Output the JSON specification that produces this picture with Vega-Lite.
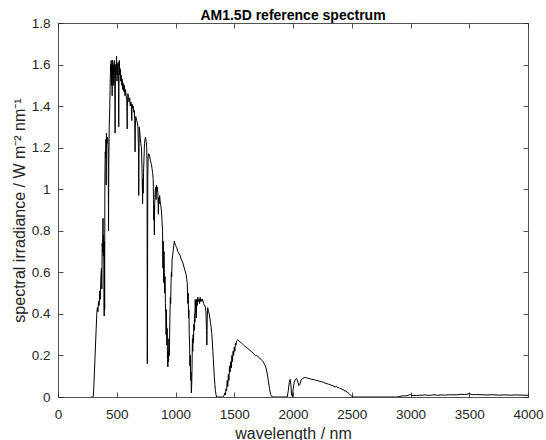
{
  "$schema": "https://vega.github.io/schema/vega-lite/v6.json",
  "width": 470,
  "height": 374,
  "autosize": "none",
  "padding": {"left": 58, "top": 23, "right": 18, "bottom": 43},
  "background": "white",
  "config": {
    "view": {"stroke": null},
    "font": "Liberation Sans",
    "axis": {
      "domainColor": "#262626",
      "domainWidth": 0.8,
      "tickColor": "#262626",
      "tickWidth": 0.8,
      "labelColor": "#262626",
      "titleColor": "#262626",
      "labelFont": "Liberation Sans",
      "titleFont": "Liberation Sans",
      "labelFontSize": 13.5,
      "titleFontSize": 16,
      "titleFontWeight": "normal",
      "grid": false
    }
  },
  "title": {
    "text": "AM1.5D reference spectrum",
    "font": "Liberation Sans",
    "fontSize": 14,
    "fontWeight": "bold",
    "color": "#000000",
    "anchor": "middle",
    "offset": -7
  },
  "data": {"values": [
    {"wl":280,"irr":0},{"wl":295,"irr":0},{"wl":300,"irr":0.002},{"wl":305,"irr":0.05},{"wl":310,"irr":0.12},{"wl":315,"irr":0.19},{"wl":320,"irr":0.26},{"wl":325,"irr":0.33},{"wl":330,"irr":0.40},{"wl":335,"irr":0.43},{"wl":340,"irr":0.41},{"wl":345,"irr":0.46},{"wl":350,"irr":0.44},{"wl":355,"irr":0.51},{"wl":360,"irr":0.47},{"wl":365,"irr":0.58},{"wl":370,"irr":0.62},{"wl":373,"irr":0.52},{"wl":376,"irr":0.74},{"wl":380,"irr":0.70},{"wl":383,"irr":0.86},{"wl":385,"irr":0.68},{"wl":388,"irr":0.78},{"wl":391,"irr":0.60},{"wl":393,"irr":0.39},{"wl":395,"irr":0.75},{"wl":397,"irr":0.42},{"wl":399,"irr":1.05},{"wl":402,"irr":1.18},{"wl":405,"irr":1.15},{"wl":408,"irr":1.24},{"wl":410,"irr":1.02},{"wl":412,"irr":1.27},{"wl":416,"irr":1.22},{"wl":420,"irr":1.25},{"wl":425,"irr":1.24},{"wl":428,"irr":1.12},{"wl":430,"irr":0.80},{"wl":432,"irr":1.10},{"wl":436,"irr":1.30},{"wl":440,"irr":1.38},{"wl":443,"irr":1.48},{"wl":446,"irr":1.56},{"wl":448,"irr":1.60},{"wl":450,"irr":1.57},{"wl":453,"irr":1.62},{"wl":456,"irr":1.50},{"wl":458,"irr":1.60},{"wl":461,"irr":1.45},{"wl":464,"irr":1.62},{"wl":467,"irr":1.55},{"wl":470,"irr":1.60},{"wl":473,"irr":1.50},{"wl":476,"irr":1.58},{"wl":479,"irr":1.62},{"wl":482,"irr":1.55},{"wl":485,"irr":1.40},{"wl":486,"irr":1.27},{"wl":487,"irr":1.45},{"wl":490,"irr":1.60},{"wl":493,"irr":1.55},{"wl":496,"irr":1.58},{"wl":498,"irr":1.64},{"wl":500,"irr":1.61},{"wl":502,"irr":1.52},{"wl":505,"irr":1.60},{"wl":508,"irr":1.55},{"wl":512,"irr":1.61},{"wl":515,"irr":1.47},{"wl":517,"irr":1.30},{"wl":519,"irr":1.50},{"wl":522,"irr":1.62},{"wl":526,"irr":1.55},{"wl":530,"irr":1.58},{"wl":534,"irr":1.52},{"wl":538,"irr":1.55},{"wl":542,"irr":1.50},{"wl":546,"irr":1.53},{"wl":550,"irr":1.48},{"wl":555,"irr":1.51},{"wl":560,"irr":1.47},{"wl":565,"irr":1.50},{"wl":570,"irr":1.45},{"wl":575,"irr":1.48},{"wl":580,"irr":1.45},{"wl":585,"irr":1.43},{"wl":588,"irr":1.35},{"wl":589,"irr":1.29},{"wl":590,"irr":1.40},{"wl":595,"irr":1.46},{"wl":600,"irr":1.44},{"wl":605,"irr":1.42},{"wl":610,"irr":1.44},{"wl":615,"irr":1.40},{"wl":620,"irr":1.42},{"wl":625,"irr":1.40},{"wl":628,"irr":1.33},{"wl":630,"irr":1.41},{"wl":635,"irr":1.39},{"wl":640,"irr":1.40},{"wl":645,"irr":1.37},{"wl":650,"irr":1.38},{"wl":653,"irr":1.33},{"wl":656,"irr":1.18},{"wl":658,"irr":1.30},{"wl":662,"irr":1.35},{"wl":666,"irr":1.34},{"wl":670,"irr":1.33},{"wl":675,"irr":1.32},{"wl":680,"irr":1.30},{"wl":685,"irr":1.20},{"wl":687,"irr":0.97},{"wl":689,"irr":1.15},{"wl":692,"irr":1.30},{"wl":695,"irr":1.28},{"wl":700,"irr":1.25},{"wl":705,"irr":1.22},{"wl":710,"irr":1.20},{"wl":715,"irr":1.10},{"wl":718,"irr":1.00},{"wl":720,"irr":0.93},{"wl":722,"irr":1.05},{"wl":725,"irr":0.98},{"wl":728,"irr":1.08},{"wl":732,"irr":1.15},{"wl":736,"irr":1.22},{"wl":740,"irr":1.24},{"wl":745,"irr":1.25},{"wl":750,"irr":1.23},{"wl":755,"irr":1.20},{"wl":758,"irr":1.10},{"wl":760,"irr":0.16},{"wl":762,"irr":0.50},{"wl":764,"irr":1.05},{"wl":767,"irr":1.15},{"wl":770,"irr":1.17},{"wl":775,"irr":1.17},{"wl":780,"irr":1.16},{"wl":785,"irr":1.14},{"wl":790,"irr":1.13},{"wl":795,"irr":1.12},{"wl":800,"irr":1.10},{"wl":805,"irr":1.08},{"wl":810,"irr":1.05},{"wl":813,"irr":0.95},{"wl":816,"irr":0.85},{"wl":818,"irr":0.92},{"wl":820,"irr":0.78},{"wl":822,"irr":0.90},{"wl":825,"irr":0.96},{"wl":828,"irr":1.00},{"wl":832,"irr":1.01},{"wl":835,"irr":0.95},{"wl":838,"irr":1.02},{"wl":842,"irr":0.99},{"wl":846,"irr":1.01},{"wl":850,"irr":0.98},{"wl":854,"irr":0.88},{"wl":857,"irr":0.96},{"wl":860,"irr":0.93},{"wl":865,"irr":0.97},{"wl":870,"irr":0.94},{"wl":875,"irr":0.92},{"wl":880,"irr":0.90},{"wl":885,"irr":0.85},{"wl":890,"irr":0.80},{"wl":893,"irr":0.62},{"wl":896,"irr":0.75},{"wl":899,"irr":0.55},{"wl":902,"irr":0.70},{"wl":905,"irr":0.60},{"wl":908,"irr":0.50},{"wl":911,"irr":0.58},{"wl":914,"irr":0.45},{"wl":917,"irr":0.40},{"wl":920,"irr":0.30},{"wl":923,"irr":0.42},{"wl":926,"irr":0.25},{"wl":929,"irr":0.33},{"wl":932,"irr":0.18},{"wl":935,"irr":0.145},{"wl":938,"irr":0.22},{"wl":941,"irr":0.17},{"wl":944,"irr":0.28},{"wl":947,"irr":0.20},{"wl":950,"irr":0.30},{"wl":953,"irr":0.40},{"wl":956,"irr":0.48},{"wl":959,"irr":0.45},{"wl":962,"irr":0.55},{"wl":965,"irr":0.60},{"wl":968,"irr":0.58},{"wl":971,"irr":0.66},{"wl":975,"irr":0.68},{"wl":980,"irr":0.70},{"wl":985,"irr":0.73},{"wl":990,"irr":0.75},{"wl":995,"irr":0.74},{"wl":1000,"irr":0.73},{"wl":1010,"irr":0.72},{"wl":1020,"irr":0.70},{"wl":1030,"irr":0.69},{"wl":1040,"irr":0.68},{"wl":1050,"irr":0.66},{"wl":1060,"irr":0.65},{"wl":1070,"irr":0.63},{"wl":1080,"irr":0.61},{"wl":1090,"irr":0.59},{"wl":1095,"irr":0.57},{"wl":1100,"irr":0.55},{"wl":1105,"irr":0.45},{"wl":1108,"irr":0.50},{"wl":1111,"irr":0.38},{"wl":1114,"irr":0.42},{"wl":1117,"irr":0.30},{"wl":1120,"irr":0.25},{"wl":1123,"irr":0.15},{"wl":1126,"irr":0.20},{"wl":1129,"irr":0.08},{"wl":1132,"irr":0.12},{"wl":1135,"irr":0.02},{"wl":1138,"irr":0.06},{"wl":1141,"irr":0.15},{"wl":1144,"irr":0.28},{"wl":1147,"irr":0.22},{"wl":1150,"irr":0.30},{"wl":1153,"irr":0.26},{"wl":1156,"irr":0.35},{"wl":1159,"irr":0.32},{"wl":1162,"irr":0.40},{"wl":1165,"irr":0.36},{"wl":1168,"irr":0.47},{"wl":1171,"irr":0.40},{"wl":1174,"irr":0.46},{"wl":1177,"irr":0.38},{"wl":1180,"irr":0.47},{"wl":1185,"irr":0.44},{"wl":1190,"irr":0.48},{"wl":1195,"irr":0.46},{"wl":1200,"irr":0.47},{"wl":1205,"irr":0.45},{"wl":1210,"irr":0.48},{"wl":1215,"irr":0.46},{"wl":1220,"irr":0.47},{"wl":1225,"irr":0.46},{"wl":1230,"irr":0.47},{"wl":1235,"irr":0.46},{"wl":1240,"irr":0.45},{"wl":1245,"irr":0.44},{"wl":1250,"irr":0.44},{"wl":1255,"irr":0.43},{"wl":1260,"irr":0.40},{"wl":1264,"irr":0.32},{"wl":1267,"irr":0.25},{"wl":1270,"irr":0.38},{"wl":1274,"irr":0.43},{"wl":1278,"irr":0.42},{"wl":1282,"irr":0.41},{"wl":1287,"irr":0.40},{"wl":1292,"irr":0.38},{"wl":1297,"irr":0.36},{"wl":1302,"irr":0.34},{"wl":1308,"irr":0.31},{"wl":1313,"irr":0.27},{"wl":1318,"irr":0.22},{"wl":1322,"irr":0.18},{"wl":1326,"irr":0.14},{"wl":1330,"irr":0.10},{"wl":1335,"irr":0.06},{"wl":1340,"irr":0.03},{"wl":1345,"irr":0.01},{"wl":1350,"irr":0},{"wl":1400,"irr":0},{"wl":1410,"irr":0.003},{"wl":1420,"irr":0.02},{"wl":1425,"irr":0.01},{"wl":1430,"irr":0.04},{"wl":1435,"irr":0.03},{"wl":1440,"irr":0.08},{"wl":1445,"irr":0.05},{"wl":1450,"irr":0.11},{"wl":1455,"irr":0.08},{"wl":1460,"irr":0.15},{"wl":1465,"irr":0.12},{"wl":1470,"irr":0.17},{"wl":1475,"irr":0.14},{"wl":1480,"irr":0.20},{"wl":1485,"irr":0.17},{"wl":1490,"irr":0.22},{"wl":1495,"irr":0.20},{"wl":1500,"irr":0.24},{"wl":1505,"irr":0.22},{"wl":1510,"irr":0.26},{"wl":1515,"irr":0.25},{"wl":1520,"irr":0.27},{"wl":1530,"irr":0.275},{"wl":1540,"irr":0.27},{"wl":1550,"irr":0.265},{"wl":1560,"irr":0.26},{"wl":1570,"irr":0.255},{"wl":1580,"irr":0.25},{"wl":1590,"irr":0.245},{"wl":1600,"irr":0.24},{"wl":1610,"irr":0.235},{"wl":1620,"irr":0.232},{"wl":1630,"irr":0.225},{"wl":1640,"irr":0.222},{"wl":1650,"irr":0.215},{"wl":1660,"irr":0.212},{"wl":1670,"irr":0.205},{"wl":1680,"irr":0.2},{"wl":1690,"irr":0.2},{"wl":1700,"irr":0.195},{"wl":1710,"irr":0.19},{"wl":1720,"irr":0.185},{"wl":1730,"irr":0.18},{"wl":1740,"irr":0.175},{"wl":1750,"irr":0.165},{"wl":1760,"irr":0.155},{"wl":1770,"irr":0.14},{"wl":1780,"irr":0.115},{"wl":1790,"irr":0.08},{"wl":1800,"irr":0.04},{"wl":1810,"irr":0.012},{"wl":1820,"irr":0.002},{"wl":1830,"irr":0},{"wl":1950,"irr":0},{"wl":1960,"irr":0.03},{"wl":1968,"irr":0.07},{"wl":1975,"irr":0.085},{"wl":1982,"irr":0.06},{"wl":1988,"irr":0.01},{"wl":1995,"irr":0.002},{"wl":2002,"irr":0.04},{"wl":2010,"irr":0.07},{"wl":2020,"irr":0.085},{"wl":2030,"irr":0.09},{"wl":2040,"irr":0.075},{"wl":2050,"irr":0.055},{"wl":2058,"irr":0.06},{"wl":2068,"irr":0.08},{"wl":2080,"irr":0.088},{"wl":2095,"irr":0.094},{"wl":2110,"irr":0.093},{"wl":2125,"irr":0.091},{"wl":2140,"irr":0.088},{"wl":2160,"irr":0.085},{"wl":2180,"irr":0.083},{"wl":2200,"irr":0.08},{"wl":2220,"irr":0.077},{"wl":2240,"irr":0.074},{"wl":2260,"irr":0.07},{"wl":2280,"irr":0.066},{"wl":2300,"irr":0.062},{"wl":2320,"irr":0.058},{"wl":2340,"irr":0.054},{"wl":2360,"irr":0.048},{"wl":2370,"irr":0.052},{"wl":2380,"irr":0.044},{"wl":2390,"irr":0.046},{"wl":2400,"irr":0.04},{"wl":2410,"irr":0.042},{"wl":2420,"irr":0.034},{"wl":2430,"irr":0.036},{"wl":2440,"irr":0.028},{"wl":2450,"irr":0.03},{"wl":2460,"irr":0.024},{"wl":2470,"irr":0.02},{"wl":2480,"irr":0.015},{"wl":2490,"irr":0.008},{"wl":2500,"irr":0.004},{"wl":2510,"irr":0},{"wl":2880,"irr":0},{"wl":2900,"irr":0.002},{"wl":2920,"irr":0.004},{"wl":2940,"irr":0.006},{"wl":2960,"irr":0.005},{"wl":2980,"irr":0.008},{"wl":3000,"irr":0.012},{"wl":3010,"irr":0.006},{"wl":3030,"irr":0.008},{"wl":3050,"irr":0.007},{"wl":3080,"irr":0.009},{"wl":3100,"irr":0.008},{"wl":3120,"irr":0.01},{"wl":3150,"irr":0.008},{"wl":3180,"irr":0.009},{"wl":3200,"irr":0.011},{"wl":3230,"irr":0.008},{"wl":3260,"irr":0.01},{"wl":3300,"irr":0.009},{"wl":3330,"irr":0.011},{"wl":3360,"irr":0.01},{"wl":3400,"irr":0.011},{"wl":3430,"irr":0.013},{"wl":3460,"irr":0.012},{"wl":3500,"irr":0.015},{"wl":3530,"irr":0.011},{"wl":3560,"irr":0.012},{"wl":3600,"irr":0.011},{"wl":3650,"irr":0.01},{"wl":3700,"irr":0.011},{"wl":3750,"irr":0.009},{"wl":3800,"irr":0.01},{"wl":3850,"irr":0.009},{"wl":3900,"irr":0.01},{"wl":3950,"irr":0.009},{"wl":4000,"irr":0.008}
  ]},
  "layer": [
    {
      "mark": {"type": "line", "color": "#000000", "strokeWidth": 1, "clip": true},
      "encoding": {
        "x": {
          "field": "wl", "type": "quantitative",
          "scale": {"domain": [0, 4000], "nice": false, "zero": false},
          "axis": {
            "orient": "bottom",
            "title": "wavelength / nm",
            "values": [0, 500, 1000, 1500, 2000, 2500, 3000, 3500, 4000],
            "format": "d",
            "tickSize": -5,
            "labelPadding": 26,
            "labelBaseline": "alphabetic",
            "labelFlush": false,
            "titlePadding": 18,
            "titleBaseline": "alphabetic"
          }
        },
        "y": {
          "field": "irr", "type": "quantitative",
          "scale": {"domain": [0, 1.8], "nice": false, "zero": false},
          "axis": {
            "orient": "left",
            "title": "spectral irradiance / W m⁻² nm⁻¹",
            "values": [0, 0.2, 0.4, 0.6, 0.8, 1, 1.2, 1.4, 1.6, 1.8],
            "format": ".1~f",
            "tickSize": -5,
            "labelPadding": 13,
            "labelFlush": false,
            "titlePadding": 4
          }
        }
      }
    },
    {
      "mark": {"type": "line", "opacity": 0},
      "encoding": {
        "x": {
          "field": "wl", "type": "quantitative",
          "axis": {
            "orient": "top", "title": null, "labels": false,
            "values": [0, 500, 1000, 1500, 2000, 2500, 3000, 3500, 4000],
            "tickSize": -5
          }
        },
        "y": {
          "field": "irr", "type": "quantitative",
          "axis": {
            "orient": "right", "title": null, "labels": false,
            "values": [0, 0.2, 0.4, 0.6, 0.8, 1, 1.2, 1.4, 1.6, 1.8],
            "tickSize": -5
          }
        }
      }
    }
  ],
  "resolve": {"axis": {"x": "independent", "y": "independent"}}
}
